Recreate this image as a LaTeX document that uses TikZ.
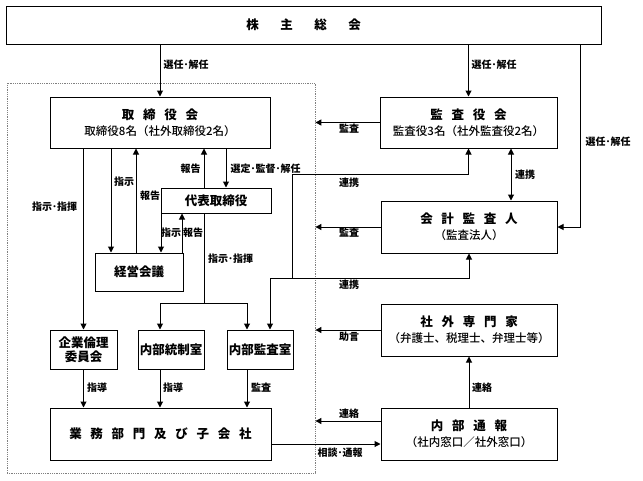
\documentclass[tikz,border=0pt]{standalone}
\usepackage{fontspec}
\setmainfont{Noto Sans CJK JP}
\newfontfamily\medjp{Noto Sans CJK JP Medium}
\usetikzlibrary{arrows.meta}
\newcommand{\kg}{\hspace{0.7em}}
\newcommand{\hdA}[1]{{\bfseries\fontsize{12.5}{16}\selectfont #1}}
\newcommand{\sbA}[1]{{\medjp\fontsize{11.5}{16}\selectfont #1}}
\begin{document}
\begin{tikzpicture}[x=1pt,y=-1pt,
  box/.style={draw, line width=1pt, inner sep=0pt, align=center, font=\fontsize{11}{16}\selectfont},
  dotbox/.style={draw=gray, densely dotted, line width=0.8pt, inner sep=0pt},
  arr/.style={-{Triangle[length=6pt,width=6pt]}, line width=1pt},
  darr/.style={{Triangle[length=6pt,width=6pt]}-{Triangle[length=6pt,width=6pt]}, line width=1pt},
  ln/.style={line width=1pt},
  lab/.style={font=\bfseries\fontsize{10}{11}\selectfont, inner sep=0pt}]
\useasboundingbox (0,0) rectangle (643,480);
\node[dotbox, minimum width=308pt, minimum height=390pt] (grp) at (161,278) {};
% boxes
\node[box, minimum width=595pt, minimum height=38pt] (sh) at (303.5,25)
  {\hdA{株\hspace{21.5pt}主\hspace{21.5pt}総\hspace{21.5pt}会}};
\node[box, minimum width=220pt, minimum height=51pt] (bd) at (160,122.5)
  {\hdA{取\kg 締\kg 役\kg 会}\\\sbA{取締役8名（社外取締役2名）}};
\node[box, minimum width=177pt, minimum height=51pt] (ka) at (468.5,122.5)
  {\hdA{監\kg 査\kg 役\kg 会}\\\sbA{監査役3名（社外監査役2名）}};
\node[box, minimum width=176pt, minimum height=52pt] (kk) at (469,227)
  {\hdA{会\kg 計\kg 監\kg 査\kg 人}\\\sbA{（監査法人）}};
\node[box, minimum width=110pt, minimum height=25pt] (dh) at (216,200.5)
  {\hdA{代表取締役}};
\node[box, minimum width=88pt, minimum height=38pt] (kei) at (139,272)
  {\hdA{経営会議}};
\node[box, minimum width=67pt, minimum height=39pt, font=\bfseries\fontsize{12.5}{14}\selectfont] (rin) at (83.5,349.5)
  {企業倫理\\委員会};
\node[box, minimum width=66pt, minimum height=39pt] (tou) at (171,349.5)
  {\hdA{内部統制室}};
\node[box, minimum width=66pt, minimum height=39pt] (kan) at (260,349.5)
  {\hdA{内部監査室}};
\node[box, minimum width=221pt, minimum height=52pt] (gyo) at (160.5,434)
  {\hdA{業\kg 務\kg 部\kg 門\kg 及\kg び\kg 子\kg 会\kg 社}};
\node[box, minimum width=176pt, minimum height=52pt] (sg) at (469,330)
  {\hdA{社\kg 外\kg 専\kg 門\kg 家}\\\sbA{（弁護士、税理士、弁理士等）}};
\node[box, minimum width=176pt, minimum height=52pt] (nt) at (469,434)
  {\hdA{内\kg 部\kg 通\kg 報}\\\sbA{（社内窓口／社外窓口）}};
% coordinates
\coordinate (rt) at (580,0);
\coordinate (lk) at (511,0);
\coordinate (ja) at (292,174);
\coordinate (jb) at (292,278);
\coordinate (jc) at (270,278);
\coordinate (xa) at (111,0);
\coordinate (xb) at (136,0);
\coordinate (xc) at (161,0);
\coordinate (xd) at (182,0);
\coordinate (xe) at (204,0);
\coordinate (xf) at (226,0);
\coordinate (h) at (204,303);
\coordinate (hl) at (160,303);
\coordinate (hr) at (247,303);
% shareholders
\draw[arr] (bd.north |- sh.south) -- (bd.north);
\draw[arr] (ka.north |- sh.south) -- (ka.north);
\draw[arr] (rt |- sh.south) -- (rt |- kk.east) -- (kk.east);
\node[lab] (l1) at (186,65) {選任･解任};
\node[lab] (l2) at (494,65) {選任･解任};
\node[lab] (l3) at (608,142) {選任･解任};
% audit
\draw[arr] (ka.west) -- (ka.west -| grp.east);
\node[lab] (l4) at (349,129) {監査};
\draw[arr] (kk.west) -- (kk.west -| grp.east);
\node[lab] (l5) at (349,233) {監査};
\draw[darr] (ka.south -| lk) -- (kk.north -| lk);
\node[lab, anchor=west] (l6) at (515,175) {連携};
% internal audit links
\draw[arr] (jc) -- (kan.north -| jc);
\draw[arr] (jc) -- (jc -| kk.south) -- (kk.south);
\draw[arr] (jb) -- (ja) -- (ja -| ka.south) -- (ka.south);
\node[lab] (l7) at (349,183) {連携};
\node[lab] (l8) at (349,285) {連携};
% board internal
\draw[arr] (bd.south -| rin.north) -- (rin.north);
\node[lab] (l9) at (54.5,207) {指示･指揮};
\draw[arr] (bd.south -| xa) -- (kei.north -| xa);
\node[lab] (l10) at (124,182) {指示};
\draw[arr] (kei.north -| xb) -- (bd.south -| xb);
\node[lab] (l11) at (150,196) {報告};
\draw[arr] (dh.north -| xe) -- (bd.south -| xe);
\node[lab] (l12) at (190.5,169) {報告};
\draw[arr] (bd.south -| xf) -- (dh.north -| xf);
\node[lab] (l13) at (265.5,169) {選定･監督･解任};
\draw[arr] (dh.south -| xc) -- (kei.north -| xc);
\node[lab] (l14) at (171,233) {指示};
\draw[arr] (kei.north -| xd) -- (dh.south -| xd);
\node[lab] (l15) at (193,233) {報告};
\draw[ln] (dh.south -| h) -- (h);
\draw[arr] (h) -- (hl) -- (tou.north -| hl);
\draw[arr] (h) -- (hr) -- (kan.north -| hr);
\node[lab] (l16) at (230.5,259) {指示･指揮};
% guidance
\draw[arr] (rin.south) -- (rin.south |- gyo.north);
\node[lab] (l17) at (97,388) {指導};
\draw[arr] (tou.south -| hl) -- (gyo.north -| hl);
\node[lab] (l18) at (173,388) {指導};
\draw[arr] (kan.south -| hr) -- (gyo.north -| hr);
\node[lab] (l19) at (261,388) {監査};
% external / whistle
\draw[arr] (sg.west) -- (sg.west -| grp.east);
\node[lab] (l20) at (349,337) {助言};
\draw[arr] (nt.north) -- (sg.south);
\node[lab, anchor=west] (l21) at (472,388) {連絡};
\draw[arr] ([yshift=13pt]nt.west) -- ([yshift=13pt]nt.west -| grp.east);
\node[lab] (l22) at (349,414) {連絡};
\draw[arr] ([yshift=-10pt]gyo.east) -- ([yshift=-10pt]nt.west);
\node[lab] (l23) at (340,453) {相談･通報};
\end{tikzpicture}
\end{document}
